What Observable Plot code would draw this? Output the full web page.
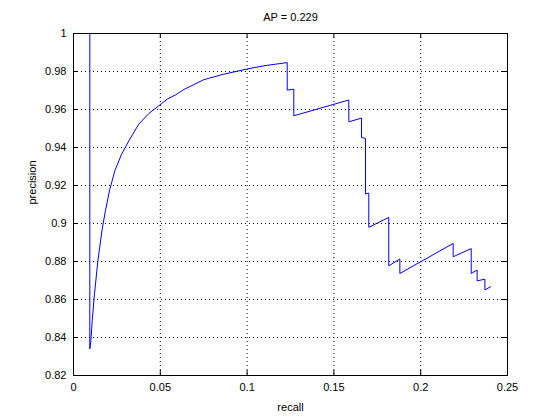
<!DOCTYPE html>
<html>
<head>
<meta charset="utf-8">
<script src="https://cdn.jsdelivr.net/npm/d3@7"></script>
<script src="https://cdn.jsdelivr.net/npm/@observablehq/plot@0.6"></script>
<style>
  html, body { margin: 0; padding: 0; background: #fff; }
</style>
</head>
<body>
<div id="chart"></div>
<script>
const titleText = "AP = 0.229";
const xLabel = "recall";
const yLabel = "precision";
const xTicks = [0, 0.05, 0.1, 0.15, 0.2, 0.25];
const yTicks = [0.82, 0.84, 0.86, 0.88, 0.9, 0.92, 0.94, 0.96, 0.98, 1];

const recall = [
  0.0094, 0.0094, 0.0100, 0.0108, 0.0121, 0.0140, 0.0165, 0.0184, 0.0207, 0.0238,
  0.0277, 0.0319, 0.0376, 0.0434, 0.0491, 0.0540, 0.0588, 0.0635, 0.0751, 0.0866,
  0.1000, 0.1096, 0.1231,
  0.1231, 0.1269, 0.1269, 0.1586, 0.1586, 0.1659, 0.1659, 0.1682, 0.1682, 0.1701,
  0.1701, 0.1816, 0.1816, 0.1880, 0.1880, 0.2187, 0.2187, 0.2291, 0.2291, 0.2325,
  0.2325, 0.2370, 0.2370, 0.2402
];
const precision = [
  1.0000, 0.8340, 0.8380, 0.8490, 0.8630, 0.8800, 0.8970, 0.9067, 0.9172, 0.9277,
  0.9365, 0.9435, 0.9523, 0.9579, 0.9619, 0.9655, 0.9677, 0.9705, 0.9757, 0.9786,
  0.9813, 0.9830, 0.9847,
  0.9702, 0.9707, 0.9567, 0.9650, 0.9535, 0.9555, 0.9453, 0.9447, 0.9155, 0.9160,
  0.8980, 0.9032, 0.8777, 0.8813, 0.8737, 0.8895, 0.8825, 0.8868, 0.8737, 0.8755,
  0.8698, 0.8707, 0.8650, 0.8667
];

const points = recall.map((r, i) => ({recall: r, precision: precision[i]}));
const fmt = d => String(+d.toFixed(2));

const W = 560, H = 420;
const mT = 33, mB = 45, mL = 73, mR = 53;
const plotW = W - mL - mR, plotH = H - mT - mB;
const tickLen = 5;

const chart = Plot.plot({
  width: W,
  height: H,
  marginTop: mT,
  marginBottom: mB,
  marginLeft: mL,
  marginRight: mR,
  style: {fontFamily: "'Liberation Sans', Arial, sans-serif", fontSize: "11px", background: "#fff", color: "#000"},
  x: {domain: [0, 0.25]},
  y: {domain: [0.82, 1]},
  marks: [
    Plot.gridX(xTicks, {stroke: "#000", strokeOpacity: 1, strokeDasharray: "1,3"}),
    Plot.gridY(yTicks, {stroke: "#000", strokeOpacity: 1, strokeDasharray: "1,3"}),
    Plot.tickX(xTicks, {x: d => d, insetTop: plotH - tickLen, stroke: "#000"}),
    Plot.tickX(xTicks, {x: d => d, insetBottom: plotH - tickLen, stroke: "#000"}),
    Plot.tickY(yTicks, {y: d => d, insetRight: plotW - tickLen, stroke: "#000"}),
    Plot.tickY(yTicks, {y: d => d, insetLeft: plotW - tickLen, stroke: "#000"}),
    Plot.axisX(xTicks, {tickSize: 0, tickPadding: 8, tickFormat: fmt, label: null, fill: "#000"}),
    Plot.axisY(yTicks, {tickSize: 0, tickPadding: 7, tickFormat: fmt, label: null, fill: "#000"}),
    Plot.frame({stroke: "#000"}),
    Plot.line(points, {x: "recall", y: "precision", stroke: "#0000ff", strokeWidth: 1}),
    Plot.text([titleText], {text: d => d, frameAnchor: "top", dy: -16, lineAnchor: "middle", fill: "#000"}),
    Plot.text([xLabel], {text: d => d, frameAnchor: "bottom", dy: 32, lineAnchor: "middle", fill: "#000"}),
    Plot.text([yLabel], {text: d => d, frameAnchor: "left", dx: -41, rotate: -90, lineAnchor: "middle", fill: "#000"})
  ]
});
document.getElementById("chart").appendChild(chart);
</script>
</body>
</html>
